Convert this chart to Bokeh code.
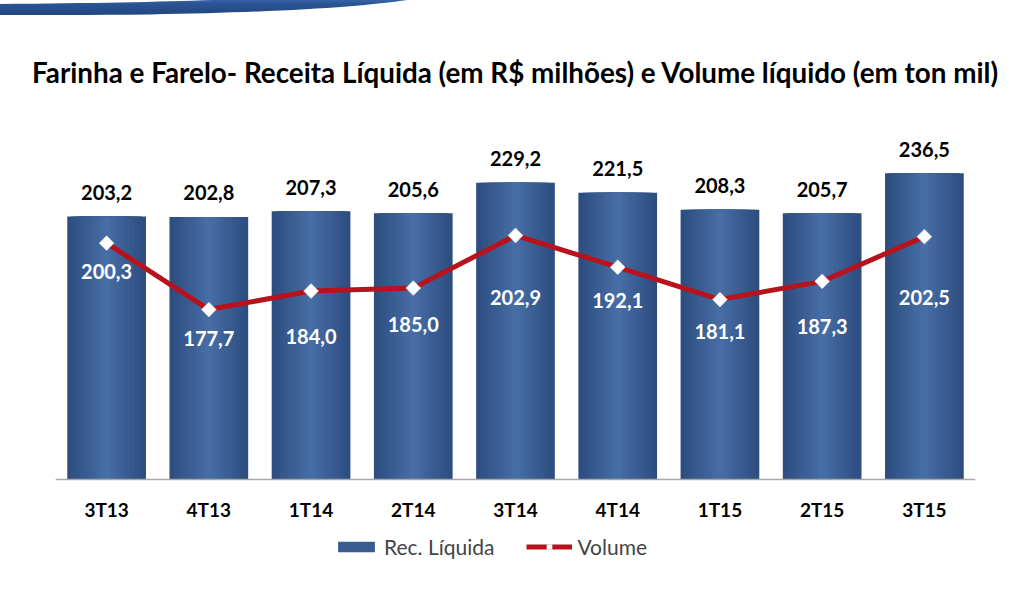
import math
from bokeh.plotting import figure
from bokeh.layouts import column
from bokeh.models import (Range1d, ColumnDataSource, LabelSet, Legend, LegendItem,
                          FactorRange, Span, Div)
from bokeh.embed import file_html
from bokeh.resources import INLINE
from bokeh.core.properties import value

# ---- data ----
quarters = ["3T13", "4T13", "1T14", "2T14", "3T14", "4T14", "1T15", "2T15", "3T15"]
receita = [203.2, 202.8, 207.3, 205.6, 229.2, 221.5, 208.3, 205.7, 236.5]
volume = [200.3, 177.7, 184.0, 185.0, 202.9, 192.1, 181.1, 187.3, 202.5]

# label placement (pixels below each volume point) - style only
vol_label_drop = [28, 29, 45, 36, 62, 33, 32, 45, 61]

FONT = "Lato"
W = 1007
BANNER_H = 16
H = 573 - BANNER_H


def br(v):
    return f"{v:.1f}".replace(".", ",")


src = ColumnDataSource(dict(
    q=quarters, rec=receita, vol=volume,
    zero=[0] * len(quarters),
    rec_lbl=[br(v) for v in receita],
    vol_lbl=[br(v) for v in volume],
    vol_off=[-d for d in vol_label_drop],
))

# ---- decorative header swoosh (pure decoration) ----
banner = Div(
    text=(f'<svg width="{W}" height="{BANNER_H}" style="display:block">'
          '<defs><linearGradient id="g" x1="0" y1="0" x2="0" y2="1">'
          '<stop offset="0" stop-color="#3E6BB0"/><stop offset="0.35" stop-color="#2A5494"/>'
          '<stop offset="1" stop-color="#23467F"/></linearGradient></defs>'
          '<path d="M0,4 C120,3 200,1 260,-2 L420,-2 C380,5 300,12 150,14.5 C90,15 40,15 0,15 Z" '
          'fill="url(#g)"/></svg>'),
    width=W, height=BANNER_H, margin=0)

# ---- main chart ----
p = figure(width=W, height=H, x_range=FactorRange(*quarters, range_padding=0),
           y_range=Range1d(-72.6, 275), output_backend="svg", toolbar_location=None,
           min_border_left=55, min_border_right=32, min_border_top=123 - BANNER_H,
           min_border_bottom=0)
p.extra_y_ranges = {"vol": Range1d(87.9, 241)}
p.outline_line_color = None
p.xgrid.visible = False
p.ygrid.visible = False
p.xaxis.visible = False
p.yaxis.visible = False
p.background_fill_color = "white"
p.border_fill_color = "white"

# title
p.title.text = "Farinha e Farelo- Receita Líquida (em R$ milhões) e Volume líquido (em ton mil)"
p.title.align = "center"
p.title.text_font = FONT
p.title.text_font_size = "27.8px"
p.title.text_font_style = "bold"
p.title.text_color = "black"
p.title.standoff = 70

# bars with a horizontal gradient (layers)
dark = (0x2E, 0x4E, 0x80)
light = (0x46, 0x6D, 0xA5)
N = 10
bar_r = None
for i in range(N):
    t = i / (N - 1)
    c = tuple(int(dark[k] + (light[k] - dark[k]) * t) for k in range(3))
    col = "#%02x%02x%02x" % c
    r = p.vbar(x="q", top="rec", bottom=0, width=0.77 * (1 - i / N), source=src,
               fill_color=col, line_color=None)
    if i == 4:
        bar_r = r

# baseline axis line + category labels
p.add_layout(Span(location=0, dimension="width", line_color="#A8A8A8", line_width=1.5))
p.add_layout(LabelSet(x="q", y="zero", text="q", source=src, y_offset=-30,
                      text_align="center", text_baseline="middle",
                      text_font=value(FONT), text_font_style="bold",
                      text_font_size="19px", text_color="black"))

# volume line
line_r = p.line(x="q", y="vol", source=src, y_range_name="vol",
                line_color="#B8121C", line_width=5)
pt_r = p.scatter(x="q", y="vol", source=src, y_range_name="vol", marker="square",
                 angle=math.pi / 4, size=10.5, fill_color="white",
                 line_color="#E0E0E0", line_width=0.5)

# labels
p.add_layout(LabelSet(x="q", y="rec", text="rec_lbl", source=src, y_offset=24,
                      text_align="center", text_baseline="middle",
                      text_font=value(FONT), text_font_style="bold",
                      text_font_size="20px", text_color="black"))
p.add_layout(LabelSet(x="q", y="vol", text="vol_lbl", source=src, y_range_name="vol",
                      y_offset="vol_off", text_align="center", text_baseline="middle",
                      text_font=value(FONT), text_font_style="bold",
                      text_font_size="20px", text_color="white"))

# legend
legend = Legend(items=[LegendItem(label="Rec. Líquida", renderers=[bar_r]),
                       LegendItem(label="Volume", renderers=[line_r, pt_r])],
                orientation="horizontal", location=(278, 14),
                label_text_font=FONT, label_text_font_size="21px",
                glyph_width=46, glyph_height=13, spacing=32, label_standoff=5,
                border_line_color=None, background_fill_alpha=0,
                padding=0, margin=0)
p.add_layout(legend)

layout = column(banner, p, spacing=0)
open("out.html", "w").write(file_html(layout, INLINE))
